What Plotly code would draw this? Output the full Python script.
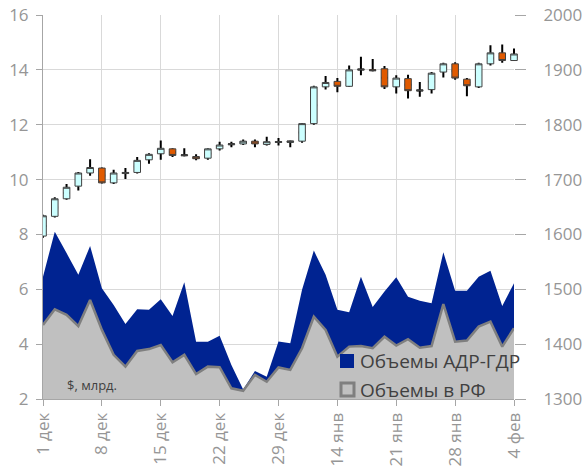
import plotly.graph_objects as go

# ---------------- data ----------------
tick_labels = ["1 дек", "8 дек", "15 дек", "22 дек", "29 дек",
               "14 янв", "21 янв", "28 янв", "4 фев"]

# RTS index candles (right axis)
rts_open = [1597, 1633, 1665, 1688, 1712, 1721, 1694, 1711, 1713, 1736,
            1747, 1756, 1745, 1742, 1739, 1756, 1764, 1765, 1770, 1764,
            1768, 1768, 1770, 1802, 1869, 1879, 1870, 1900, 1900, 1902,
            1869, 1884, 1862, 1864, 1896, 1911, 1883, 1869, 1911, 1931, 1917]
rts_close = [1634, 1665, 1686, 1712, 1722, 1694, 1712, 1713, 1735, 1746,
             1757, 1744, 1744, 1738, 1756, 1763, 1765, 1770, 1765, 1769,
             1769, 1770, 1802, 1869, 1877, 1870, 1900, 1901, 1899, 1869,
             1885, 1862, 1863, 1894, 1911, 1885, 1871, 1911, 1931, 1917, 1929]
rts_high = [1636, 1668, 1692, 1714, 1737, 1722, 1718, 1721, 1741, 1748,
            1771, 1757, 1757, 1746, 1757, 1769, 1769, 1773, 1773, 1778,
            1776, 1771, 1803, 1871, 1889, 1885, 1908, 1924, 1920, 1907,
            1890, 1891, 1878, 1896, 1913, 1914, 1885, 1913, 1945, 1946, 1939]
rts_low = [1594, 1631, 1663, 1680, 1707, 1693, 1692, 1701, 1711, 1729,
           1736, 1741, 1742, 1735, 1736, 1753, 1759, 1763, 1759, 1762,
           1762, 1759, 1767, 1800, 1864, 1859, 1869, 1890, 1897, 1865,
           1857, 1848, 1851, 1857, 1886, 1882, 1852, 1867, 1908, 1913, 1916]

# trading volumes, $ bn (left axis), stacked
vol_rf = [4.70, 5.27, 5.07, 4.66, 5.61, 4.52, 3.61, 3.18, 3.75, 3.82,
          3.97, 3.34, 3.61, 2.91, 3.18, 3.16, 2.39, 2.30, 2.88, 2.63,
          3.15, 3.06, 3.85, 5.00, 4.52, 3.54, 3.91, 3.93, 3.85, 4.27,
          3.95, 4.18, 3.87, 3.93, 5.46, 4.09, 4.13, 4.64, 4.82, 3.91, 4.58]
vol_adr = [1.76, 2.83, 2.25, 1.87, 1.97, 1.52, 1.82, 1.55, 1.52, 1.43,
           1.67, 1.69, 2.65, 1.18, 0.91, 1.15, 0.85, 0.05, 0.14, 0.18,
           0.95, 0.97, 2.13, 2.41, 2.01, 1.71, 1.25, 2.53, 1.50, 1.65,
           2.49, 1.55, 1.71, 1.56, 1.89, 1.86, 1.82, 1.82, 1.86, 1.48, 1.64]

n = len(vol_rf)
xs = list(range(n))
tick_step = 5
tick_vals = xs[::tick_step]

# ---------------- style ----------------
FONT = "Open Sans"
TICK_COLOR = "#969696"
GRID = "#d9d9d9"
AXIS = "#a6a6a6"
BLUE = "#002391"
GRAY_FILL = "#c0c0c0"
GRAY_LINE = "#7f7f7f"
UP_FILL = "#ccffff"
DOWN_FILL = "#e05a00"

W, H = 584, 466
ML, MT = 43, 15
MR = W - 522
MB = H - 399
plot_w = W - ML - MR
plot_h = H - MT - MB
main_w = 471  # width of main x-axis domain in px
dom = main_w / plot_w

fig = go.Figure()

fig.add_trace(go.Scatter(
    x=xs, y=vol_rf, stackgroup="vol", mode="lines",
    line=dict(color=GRAY_LINE, width=2.5), fillcolor=GRAY_FILL,
    name="Объемы в РФ", showlegend=False, xaxis="x", yaxis="y"))
fig.add_trace(go.Scatter(
    x=xs, y=vol_adr, stackgroup="vol", mode="lines",
    line=dict(color=BLUE, width=0), fillcolor=BLUE,
    name="Объемы АДР-ГДР", showlegend=False, xaxis="x", yaxis="y"))

# wicks (thick black)
mid = [(o + c) / 2 for o, c in zip(rts_open, rts_close)]
fig.add_trace(go.Candlestick(
    x=xs, open=mid, close=mid, high=rts_high, low=rts_low,
    increasing=dict(line=dict(color="black", width=2), fillcolor="black"),
    decreasing=dict(line=dict(color="black", width=2), fillcolor="black"),
    whiskerwidth=0, showlegend=False, hoverinfo="skip",
    xaxis="x2", yaxis="y3"))
# bodies
body_hi = [max(o, c) for o, c in zip(rts_open, rts_close)]
body_lo = [min(o, c) for o, c in zip(rts_open, rts_close)]
fig.add_trace(go.Candlestick(
    x=xs, open=rts_open, close=rts_close, high=body_hi, low=body_lo,
    increasing=dict(line=dict(color="#404040", width=1), fillcolor=UP_FILL),
    decreasing=dict(line=dict(color="#404040", width=1), fillcolor=DOWN_FILL),
    whiskerwidth=0, showlegend=False, name="РТС",
    xaxis="x2", yaxis="y3"))

tickfont = dict(family=FONT, size=17, color=TICK_COLOR)

fig.update_layout(
    width=W, height=H,
    margin=dict(l=ML, r=MR, t=MT, b=MB, autoexpand=False),
    paper_bgcolor="white", plot_bgcolor="rgba(0,0,0,0)",
    showlegend=False, boxgap=0.2,
    xaxis=dict(domain=[0, dom], range=[0, n - 1], tickmode="array",
               tickvals=tick_vals, ticktext=tick_labels, tickangle=-90,
               tickfont=tickfont, showgrid=True, gridcolor=GRID,
               ticks="outside", ticklen=6, tickcolor=AXIS,
               showline=True, linecolor=AXIS, zeroline=False,
               automargin=False, ticklabeloverflow="allow",
               rangeslider=dict(visible=False), fixedrange=True),
    yaxis=dict(range=[2, 16], dtick=2, tickfont=tickfont, showgrid=True,
               gridcolor=GRID, ticks="outside", ticklen=6, tickcolor=AXIS,
               showline=True, linecolor=AXIS, zeroline=False,
               automargin=False, ticklabelstandoff=4,
               ticklabeloverflow="allow"),
    yaxis2=dict(range=[1300, 2000], dtick=100, overlaying="y", side="right",
                anchor="x", tickfont=tickfont, showgrid=False,
                ticks="outside", ticklen=11, tickcolor=AXIS,
                showline=False, zeroline=False, automargin=False,
                ticklabelstandoff=14, ticklabeloverflow="allow"),
    xaxis2=dict(domain=[0, 1], anchor="y3",
                range=[0, (n - 1) * plot_w / main_w], visible=False,
                automargin=False, rangeslider=dict(visible=False)),
    yaxis3=dict(domain=[0, 1], anchor="x2", range=[1300, 2000],
                visible=False, automargin=False),
)

# dummy trace so yaxis2 is shown
fig.add_trace(go.Scatter(x=[None], y=[None], xaxis="x", yaxis="y2",
                         showlegend=False, hoverinfo="skip"))

def xp(px):
    return (px - ML) / plot_w
def yp(py):
    return (H - MB - py) / plot_h

# legend (custom)
fig.add_shape(type="rect", xref="paper", yref="paper",
              x0=xp(340), x1=xp(354), y0=yp(368), y1=yp(354),
              fillcolor=BLUE, line=dict(width=0))
fig.add_shape(type="rect", xref="paper", yref="paper",
              x0=xp(341), x1=xp(354), y0=yp(396), y1=yp(383),
              fillcolor=GRAY_FILL, line=dict(color=GRAY_LINE, width=3))
fig.add_annotation(x=xp(358), y=yp(361), xref="paper", yref="paper",
                   xanchor="left", yanchor="middle", showarrow=False,
                   text="Объемы АДР-ГДР",
                   font=dict(family=FONT, size=19, color="#404040"))
fig.add_annotation(x=xp(358), y=yp(390), xref="paper", yref="paper",
                   xanchor="left", yanchor="middle", showarrow=False,
                   text="Объемы в РФ",
                   font=dict(family=FONT, size=19, color="#404040"))
fig.add_annotation(x=xp(65), y=yp(385), xref="paper", yref="paper",
                   xanchor="left", yanchor="middle", showarrow=False,
                   text="$, млрд.",
                   font=dict(family=FONT, size=13, color="#404040"))

fig.write_html(
    "out.html",
    config=dict(displayModeBar=False, staticPlot=True),
    post_script="document.body.style.margin='0';"
                "document.body.style.overflow='hidden';")
